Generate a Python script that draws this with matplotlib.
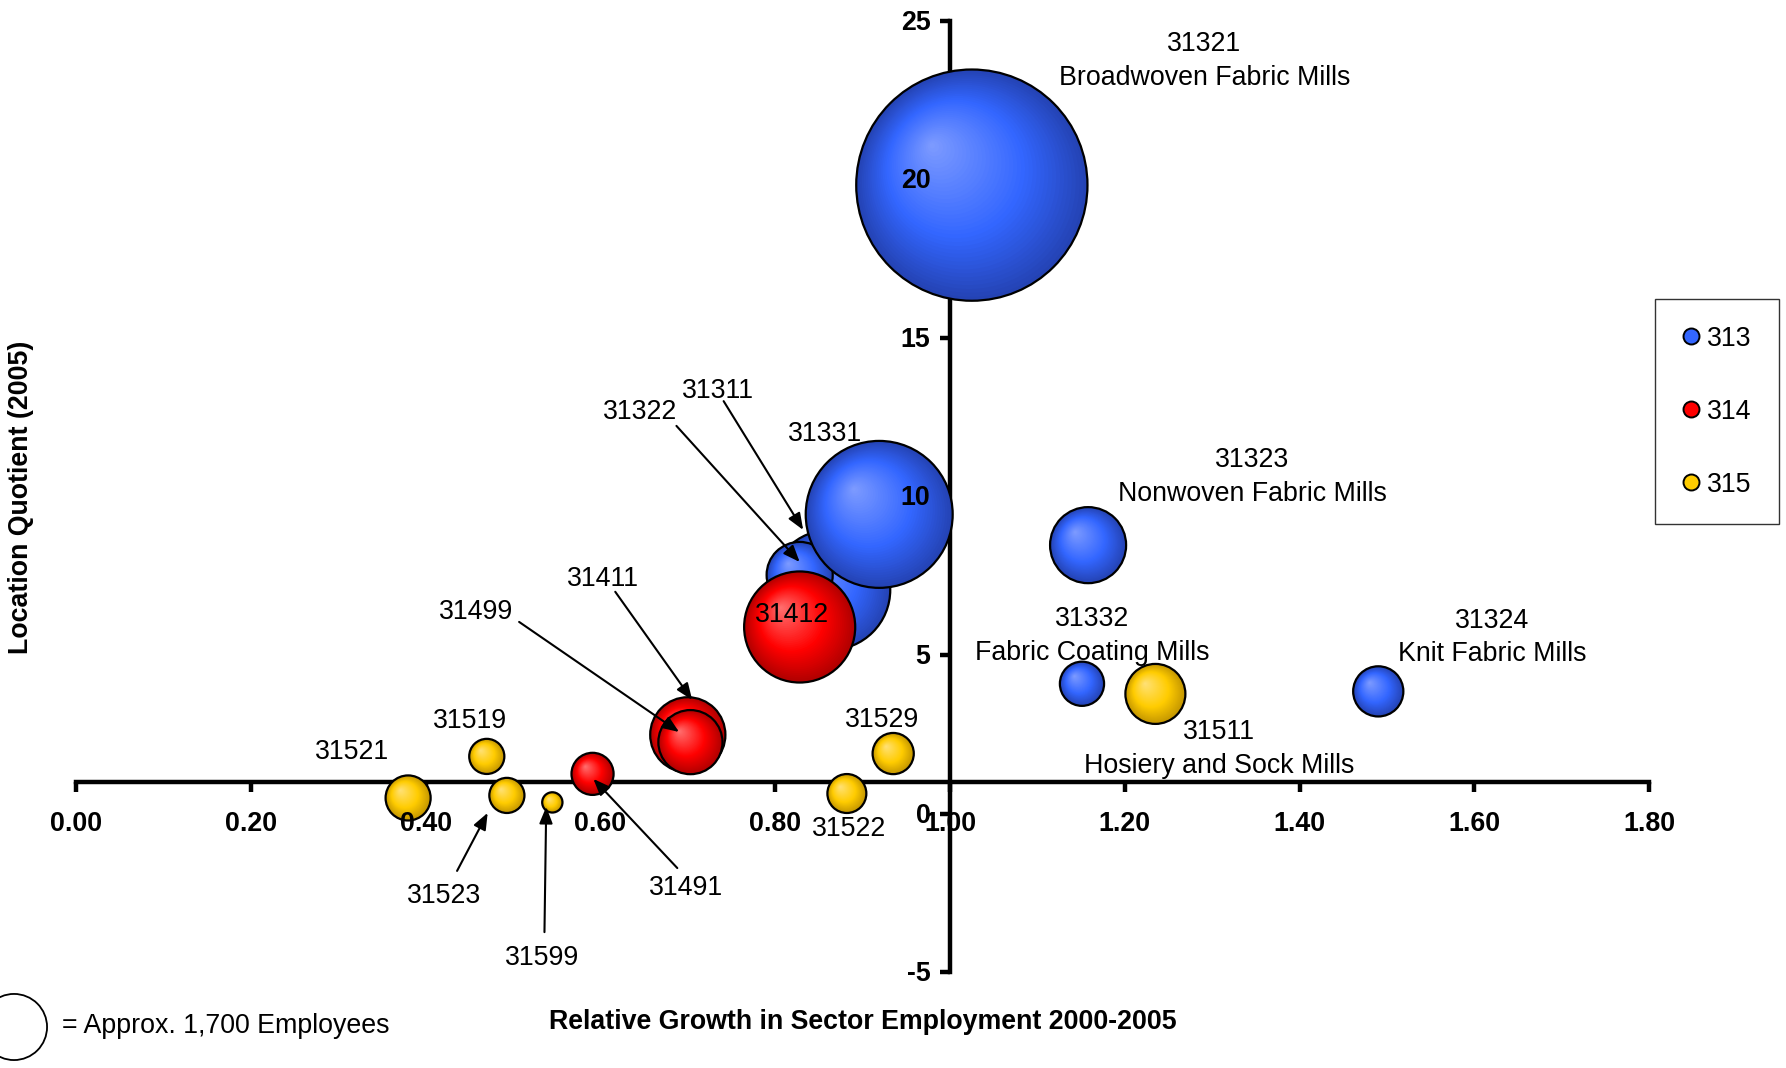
import numpy as np
import matplotlib
matplotlib.use('Agg')
import matplotlib.pyplot as plt
from matplotlib.patches import Ellipse
from matplotlib.lines import Line2D
from matplotlib.colors import to_rgb

plt.rcParams['font.family'] = ['Liberation Sans', 'DejaVu Sans']

# ---- data ----
codes = ['31321', '31311', '31322', '31331', '31323', '31332', '31324',
         '31412', '31411', '31499', '31491',
         '31511', '31519', '31521', '31523', '31599', '31522', '31529']
sector = ['313'] * 7 + ['314'] * 4 + ['315'] * 7
growth = [1.025, 0.863, 0.828, 0.919, 1.158, 1.151, 1.490,
          0.828, 0.700, 0.703, 0.591,
          1.235, 0.470, 0.380, 0.493, 0.545, 0.882, 0.935]
lq = [19.81, 7.05, 7.52, 9.43, 8.46, 4.09, 3.85,
      5.88, 2.48, 2.25, 1.25,
      3.77, 1.80, 0.49, 0.57, 0.35, 0.63, 1.89]
employees = [20800, 5600, 1700, 8400, 2250, 760, 980,
             4800, 2200, 1600, 690,
             1400, 480, 790, 480, 160, 590, 660]
sectors = ['313', '314', '315']
x_ticks = [0.0, 0.2, 0.4, 0.6, 0.8, 1.0, 1.2, 1.4, 1.6, 1.8]
y_ticks = [-5, 0, 5, 10, 15, 20, 25]
key_employees = 1700

# ---- layout / style ----
# (dark edge, base, highlight) per sector
colors = {'313': ('#2443B4', '#3366FF', '#7F9CFF'),
          '314': ('#B00000', '#FF0000', '#FF7272'),
          '315': ('#C49600', '#FFCC00', '#FFE27A')}
key_r_pt = 23.8          # radius (points) of the 1,700-employee bubble
FS = 19.3

# label text and its centre in data coords
labels = {'31321': ('31321\nBroadwoven Fabric Mills', 1.291, 23.72),
          '31323': ('31323\nNonwoven Fabric Mills', 1.346, 10.60),
          '31332': ('31332\nFabric Coating Mills', 1.163, 5.60),
          '31324': ('31324\nKnit Fabric Mills', 1.620, 5.55),
          '31511': ('31511\nHosiery and Sock Mills', 1.308, 2.04),
          '31331': ('31331', 0.857, 11.96),
          '31311': ('31311', 0.735, 13.32),
          '31322': ('31322', 0.645, 12.67),
          '31412': ('31412', 0.819, 6.26),
          '31411': ('31411', 0.603, 7.39),
          '31499': ('31499', 0.458, 6.35),
          '31519': ('31519', 0.451, 2.92),
          '31521': ('31521', 0.316, 1.94),
          '31523': ('31523', 0.421, -2.60),
          '31599': ('31599', 0.533, -4.55),
          '31491': ('31491', 0.698, -2.35),
          '31522': ('31522', 0.884, -0.49),
          '31529': ('31529', 0.922, 2.95)}
# arrows: tail -> tip
arrows = {'31311': ((0.741, 13.00), (0.832, 8.94)),
          '31322': ((0.687, 12.22), (0.828, 7.93)),
          '31411': ((0.617, 6.99), (0.705, 3.58)),
          '31499': ((0.507, 6.04), (0.690, 2.57)),
          '31523': ((0.436, -1.81), (0.471, 0.02)),
          '31599': ((0.536, -3.74), (0.538, 0.21)),
          '31491': ((0.688, -1.72), (0.592, 1.09))}

W, H = 1786, 1068
fig = plt.figure(figsize=(W / 100, H / 100), dpi=100)
fig.patch.set_facecolor('white')
ax = fig.add_axes([76 / W, 1 - 972.1 / H, 1573.2 / W, 951.6 / H])
ax.set_xlim(0, 1.8)
ax.set_ylim(-5, 25)

# quadrant axes crossing at (1, 1)
ax.spines['top'].set_visible(False)
ax.spines['right'].set_visible(False)
ax.spines['left'].set_position(('data', 1.0))
ax.spines['bottom'].set_position(('data', 1.0))
for s in ['left', 'bottom']:
    ax.spines[s].set_linewidth(3.2)
    ax.spines[s].set_zorder(2)
ax.set_xticks(x_ticks)
ax.set_yticks(y_ticks)
ax.tick_params(direction='out', length=7, width=3.2,
               labelbottom=False, labelleft=False)

for v in x_ticks:
    ax.annotate(f'{v:.2f}', xy=(v, 1.0), xytext=(0, -30.5), textcoords='offset points',
                ha='center', va='center', fontsize=FS, fontweight='bold', zorder=6)
for v in y_ticks:
    ax.annotate(f'{v:d}', xy=(1.0, v), xytext=(-14, -1.5), textcoords='offset points',
                ha='right', va='center', fontsize=FS, fontweight='bold', zorder=6)

# pixels per data unit
sx = ax.bbox.width / 1.8
sy = ax.bbox.height / 30.0


def shade(cols, t):
    dark, base, light = [np.array(to_rgb(c)) for c in cols]
    if t < 0.4:
        return dark + (base - dark) * (t / 0.4)
    return base + (light - base) * ((t - 0.4) / 0.6)


def draw_bubble(x, y, r, cols):
    n = 40
    for i in range(n):
        t = i / n
        rr = r * (1 - t)
        cx = x - 0.35 * r * t / sx
        cy = y + 0.35 * r * t / sy
        ax.add_patch(Ellipse((cx, cy), 2 * rr / sx, 2 * rr / sy,
                             facecolor=shade(cols, t), edgecolor='none', zorder=3))
    ax.add_patch(Ellipse((x, y), 2 * r / sx, 2 * r / sy, facecolor='none',
                         edgecolor='black', lw=1.6, zorder=3))


px_per_pt = fig.dpi / 72.0
for code, sec, gx, q, emp in zip(codes, sector, growth, lq, employees):
    r = key_r_pt * px_per_pt * np.sqrt(emp / key_employees)
    draw_bubble(gx, q, r, colors[sec])

for code, (txt, lx, ly) in labels.items():
    ax.text(lx, ly, txt, ha='center', va='center', fontsize=FS,
            linespacing=1.39, zorder=6)

for code, (tail, tip) in arrows.items():
    ax.annotate('', xy=tip, xytext=tail,
                arrowprops=dict(arrowstyle='-|>,head_length=0.5,head_width=0.2',
                                mutation_scale=20, lw=1.5, color='black',
                                shrinkA=0, shrinkB=0), zorder=7)

# axis titles
fig.text(863 / W, 1 - 1022 / H, 'Relative Growth in Sector Employment 2000-2005',
         ha='center', va='center', fontsize=FS, fontweight='bold')
fig.text(21 / W, 1 - 497.5 / H, 'Location Quotient (2005)', rotation=90,
         ha='center', va='center', fontsize=FS, fontweight='bold')

# size key
key_r_px = key_r_pt * px_per_pt
fig.add_artist(Ellipse((14 / W, 1 - 1027 / H), 2 * key_r_px / W, 2 * key_r_px / H,
                       transform=fig.transFigure, facecolor='white',
                       edgecolor='black', lw=1.3))
fig.text(62 / W, 1 - 1026 / H, '= Approx. 1,700 Employees', ha='left', va='center',
         fontsize=FS)

# legend
handles = [Line2D([], [], ls='none', marker='o', ms=11.5, mfc=colors[s][1],
                  mec='black', mew=1.4, label=s) for s in sectors]
leg = fig.legend(handles=handles, loc='upper left',
                 bbox_to_anchor=(1655 / W, 1 - 299 / H), frameon=True,
                 fancybox=False, edgecolor='black', fontsize=FS,
                 labelspacing=1.75, handlelength=0.7, handletextpad=0.25,
                 borderpad=1.0, borderaxespad=0)
leg.get_frame().set_linewidth(1.0)

fig.savefig('out.png', dpi=100, facecolor='white')
